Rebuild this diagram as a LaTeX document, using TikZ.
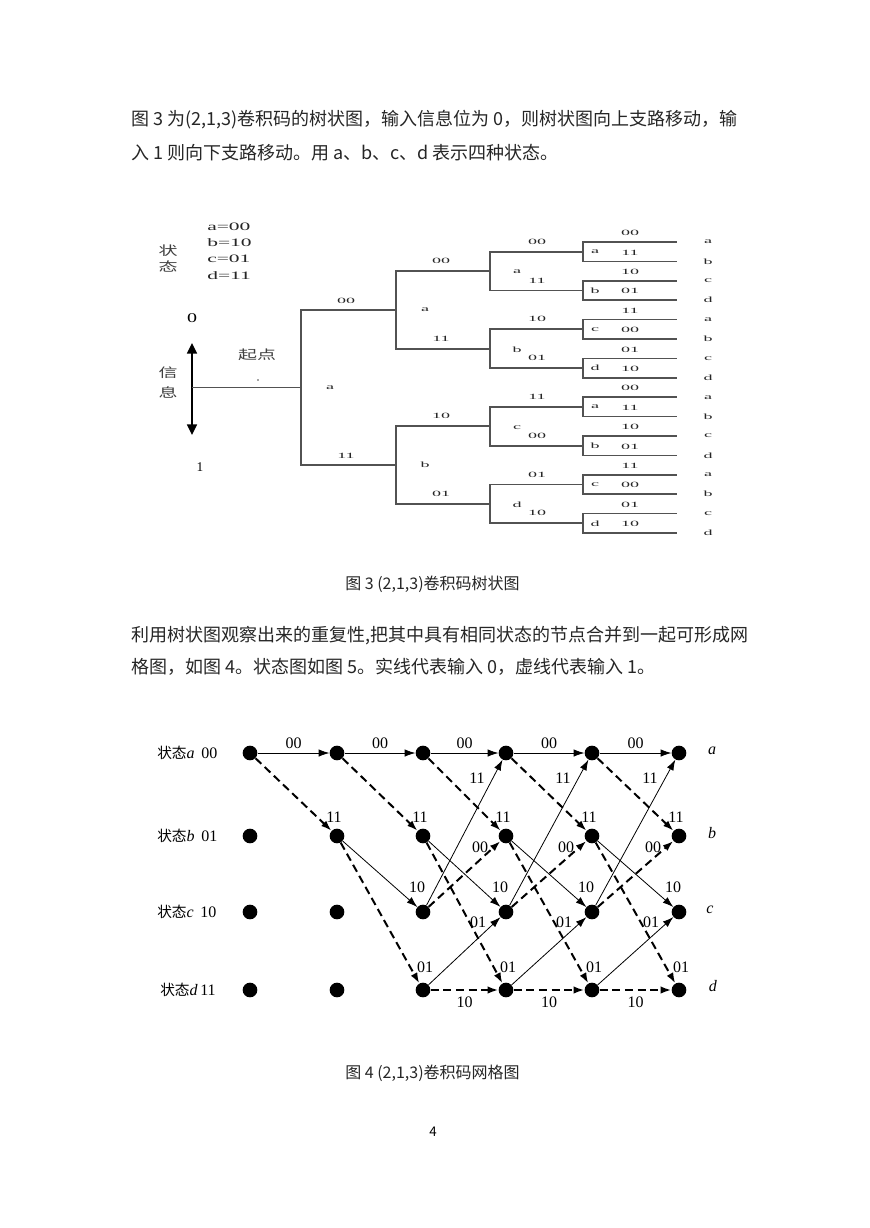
\documentclass[tikz,border=0pt]{standalone}
\usepackage{fontspec}
\usepackage{graphicx}
\setmainfont{Liberation Serif}
\newfontfamily\cjk{Noto Sans CJK SC}
\usetikzlibrary{arrows.meta,calc}
\newcommand{\Wd}[1]{\scalebox{2.25}[1]{#1}}
\newcommand{\Wc}[1]{\scalebox{1.5}[1]{#1}}
\begin{document}
\begin{tikzpicture}[x=0.75pt,y=-0.75pt,
  tl/.style={draw=black!68, line width=1.3pt},
  tlab/.style={inner sep=0pt, text=black!85, font=\fontsize{6}{7}\selectfont},
  leg/.style={inner sep=0pt, anchor=west, text=black!85, font=\fontsize{8.5}{9}\selectfont},
  tcjk/.style={inner sep=0pt, text=black!75, font=\cjk\fontsize{9.5}{10}\selectfont},
  dot/.style={circle, fill=black, inner sep=0pt, minimum size=11pt},
  sol/.style={-{Latex[length=8pt,width=5.5pt]}, line width=0.6pt},
  dsh/.style={-{Latex[length=8pt,width=5.5pt]}, line width=1.5pt, dash pattern=on 6pt off 3.5pt},
  glab/.style={inner sep=0pt, font=\fontsize{12}{13}\selectfont},
  gcjk/.style={inner sep=0pt, anchor=west, font=\fontsize{12}{13}\selectfont},
  para/.style={anchor=west, inner sep=0pt, text=black!85, font=\cjk\fontsize{13.5}{15}\selectfont},
  captxt/.style={anchor=west, inner sep=0pt, text=black!85, font=\cjk\fontsize{12}{13}\selectfont}]
\useasboundingbox (0,0) rectangle (869,1228);
\fill[white] (0,0) rectangle (869,1228);

% ---------- text ----------
\node[para] (p1) at (131,120) {图 3 为(2,1,3)卷积码的树状图，输入信息位为 0，则树状图向上支路移动，输};
\node[para] (p2) at (131,153) {入 1 则向下支路移动。用 a、b、c、d 表示四种状态。};
\node[captxt] (c1) at (345,584) {图 3 (2,1,3)卷积码树状图};
\node[para] (p3) at (131,636) {利用树状图观察出来的重复性,把其中具有相同状态的节点合并到一起可形成网};
\node[para] (p4) at (131,667) {格图，如图 4。状态图如图 5。实线代表输入 0，虚线代表输入 1。};
\node[captxt] (c2) at (345,1073) {图 4 (2,1,3)卷积码网格图};
\node[inner sep=0pt, font=\cjk\fontsize{10}{12}\selectfont] (pg) at (433,1132) {4};

% ---------- tree ----------
\node[leg] (lg1) at (207,227) {\scalebox{1.9}[1]{a=00}};
\node[leg] (lg2) at (207,243) {\scalebox{1.9}[1]{b=10}};
\node[leg] (lg3) at (207,259) {\scalebox{1.9}[1]{c=01}};
\node[leg] (lg4) at (207,276) {\scalebox{1.9}[1]{d=11}};
\node[tcjk] (zt1) at (168,251) {\Wc{状}};
\node[tcjk] (zt2) at (168,267) {\Wc{态}};
\node[tcjk] (xx1) at (168,373) {\Wc{信}};
\node[tcjk] (xx2) at (168,393) {\Wc{息}};
\node[tcjk] (qdn) at (257,355) {\Wc{起点}};
\fill[black!70] (258,380) circle (0.8);
\node[inner sep=0pt, font=\fontsize{10}{11}\selectfont] (in0) at (192,318) {\scalebox{1.5}[1]{0}};
\node[inner sep=0pt, font=\fontsize{10}{11}\selectfont] (in1) at (200,467) {1};

\coordinate (atop) at (192,343);
\coordinate (abot) at (192,435);
\coordinate (r0) at (192,387.5);
\draw[line width=1.2pt, {Triangle[length=8pt,width=7.5pt]}-{Triangle[length=8pt,width=7.5pt]}] (atop) -- (abot);

\coordinate (c0) at (301,387.5);
\foreach \j in {0,1} \coordinate (d\j) at (396,{309.9+155.2*\j});
\foreach \j in {0,...,3} \coordinate (e\j) at (490,{271.1+77.6*\j});
\foreach \j in {0,...,7} \coordinate (f\j) at (583,{251.7+38.8*\j});
\foreach \k in {0,...,15} \coordinate (lf\k) at (677,{242+19.4*\k});

\draw[tl] (r0) -- (c0);
\foreach \j in {0,1} \draw[tl] (c0) |- (d\j);
\foreach \j in {0,...,3} {\pgfmathtruncatemacro\p{\j/2}\draw[tl] (d\p) |- (e\j);}
\foreach \j in {0,...,7} {\pgfmathtruncatemacro\p{\j/2}\draw[tl] (e\p) |- (f\j);}
\foreach \k in {0,...,15} {\pgfmathtruncatemacro\p{\k/2}\draw[tl] (f\p) |- (lf\k);}

% branch labels
\foreach \j/\t in {0/00,1/11} \node[tlab] (b1\j) at (346,{309.9+155.2*\j-9}) {\Wd{\t}};
\foreach \j/\t in {0/00,1/11,2/10,3/01} \node[tlab] (b2\j) at (441,{271.1+77.6*\j-10}) {\Wd{\t}};
\foreach \j/\t in {0/00,1/11,2/10,3/01,4/11,5/00,6/01,7/10} \node[tlab] (b3\j) at (537,{251.7+38.8*\j-10}) {\Wd{\t}};
\foreach \k/\t in {0/00,1/11,2/10,3/01,4/11,5/00,6/01,7/10,8/00,9/11,10/10,11/01,12/11,13/00,14/01,15/10}
  \node[tlab] (b4\k) at (630,{242+19.4*\k-9}) {\Wd{\t}};
% state letters
\node[tlab] (s1) at (330,388) {\Wd{a}};
\foreach \j/\t in {0/a,1/b} \node[tlab] (s2\j) at (425,{309.9+155.2*\j}) {\Wd{\t}};
\foreach \j/\t in {0/a,1/b,2/c,3/d} \node[tlab] (s3\j) at (517,{271.1+77.6*\j+1}) {\Wd{\t}};
\foreach \j/\t in {0/a,1/b,2/c,3/d,4/a,5/b,6/c,7/d} \node[tlab] (s4\j) at (595,{251.7+38.8*\j}) {\Wd{\t}};
\foreach \k/\t in {0/a,1/b,2/c,3/d,4/a,5/b,6/c,7/d,8/a,9/b,10/c,11/d,12/a,13/b,14/c,15/d}
  \node[tlab] (ll\k) at (708,{242+19.4*\k}) {\Wd{\t}};

% ---------- trellis ----------
\foreach \i/\x in {0/250,1/337,2/423,3/506,4/592,5/679}{
  \foreach \r/\y in {a/753,b/836,c/912,d/990}{
    \node[dot] (g-\i-\r) at (\x,\y) {};
  }
}
\node[gcjk] (ra) at (157,753) {{\cjk\fontsize{11}{12}\selectfont 状态}\textit{a}\ \,00};
\node[gcjk] (rb) at (157,836) {{\cjk\fontsize{11}{12}\selectfont 状态}\textit{b}\ \,01};
\node[gcjk] (rc) at (157,912) {{\cjk\fontsize{11}{12}\selectfont 状态}\textit{c}\ \,10};
\node[gcjk] (rd) at (160,990) {{\cjk\fontsize{11}{12}\selectfont 状态}\textit{d}\,11};
\node[glab] (qa) at (712,751) {\textit{a}};
\node[glab] (qb) at (712,833) {\textit{b}};
\node[glab] (qc) at (710,910) {\textit{c}};
\node[glab] (qdd) at (713,986) {\textit{d}};

\foreach \i/\j in {0/1,1/2,2/3,3/4,4/5}{
  \draw[sol] (g-\i-a) -- (g-\j-a);
  \draw[dsh] (g-\i-a) -- (g-\j-b);
  \node[glab] (la-\i) at ($(g-\i-a)!0.5!(g-\j-a)+(0,-10)$) {00};
  \node[glab] (lb-\i) at ([shift={(-3,-19)}]g-\j-b) {11};
}
\foreach \i/\j in {1/2,2/3,3/4,4/5}{
  \draw[sol] (g-\i-b) -- (g-\j-c);
  \draw[dsh] (g-\i-b) -- (g-\j-d);
  \node[glab] (lc-\i) at ([shift={(-6,-25)}]g-\j-c) {10};
  \node[glab] (ld-\i) at ([shift={(2,-23)}]g-\j-d) {01};
}
\foreach \i/\j in {2/3,3/4,4/5}{
  \draw[sol] (g-\i-c) -- (g-\j-a);
  \draw[dsh] (g-\i-c) -- (g-\j-b);
  \draw[sol] (g-\i-d) -- (g-\j-c);
  \draw[dsh] (g-\i-d) -- (g-\j-d);
  \node[glab] (le-\i) at ([shift={(-29,25)}]g-\j-a) {11};
  \node[glab] (lf-\i) at ([shift={(-26,11)}]g-\j-b) {00};
  \node[glab] (lg-\i) at ([shift={(-28,10)}]g-\j-c) {01};
  \node[glab] (lh-\i) at ($(g-\i-d)!0.5!(g-\j-d)+(0,12)$) {10};
}
\end{tikzpicture}
\end{document}
